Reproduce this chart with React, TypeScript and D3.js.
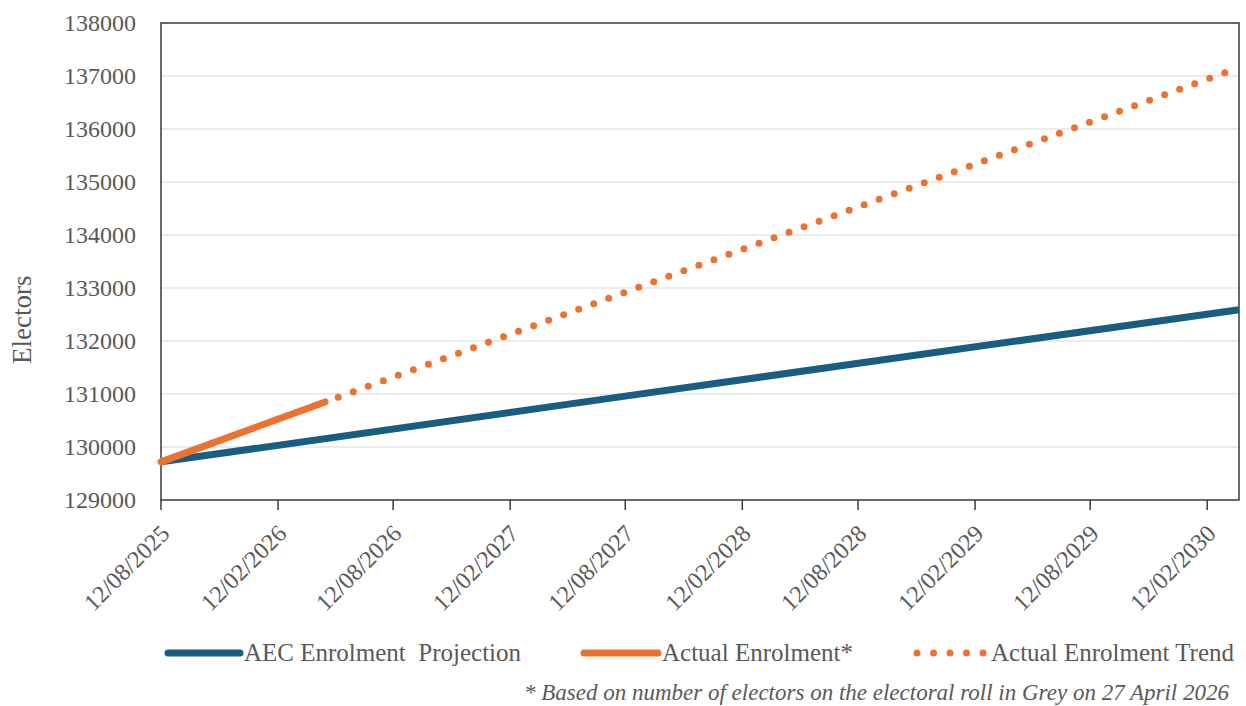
import { useEffect, useRef } from "react";
import * as d3 from "d3";

// AEC projection (linear)
const projectionDates = ["2025-08-12", "2027-08-12", "2030-04-03"];
const projectionValues = [129720, 130960, 132590];

// Actual enrolment to 27 April 2026
const actualDates = ["2025-08-12", "2026-04-27"];
const actualValues = [129720, 130850];

// Trend of actual enrolment
const trendDates = ["2026-04-27", "2027-08-12", "2030-03-20"];
const trendValues = [130850, 132920, 137100];

const xTickDates = [
  "2025-08-12", "2026-02-12", "2026-08-12", "2027-02-12", "2027-08-12",
  "2028-02-12", "2028-08-12", "2029-02-12", "2029-08-12", "2030-02-12",
];
const yTicks = [129000, 130000, 131000, 132000, 133000, 134000, 135000, 136000, 137000, 138000];

const xStart = "2025-08-12";
const xEnd = "2030-04-03";

const BLUE = "#195e80";
const ORANGE = "#ec7232";
const TEXT = "#595959";
const FONT = "'Liberation Serif', 'Times New Roman', serif";

export default function App() {
  const svgRef = useRef<SVGSVGElement>(null);

  useEffect(() => {
    const W = 1246;
    const H = 706;
    const margin = { top: 23, right: 7, bottom: 206, left: 161 };
    const width = W - margin.left - margin.right;
    const height = H - margin.top - margin.bottom;

    const root = d3.select(svgRef.current);
    root.selectAll("*").remove();
    root.attr("width", W).attr("height", H);

    const parse = d3.timeParse("%Y-%m-%d");
    const fmt = d3.timeFormat("%d/%m/%Y");

    const svg = root.append("g").attr("transform", `translate(${margin.left},${margin.top})`);

    const x = d3
      .scaleTime()
      .domain([parse(xStart)!, parse(xEnd)!])
      .range([0, width]);
    const y = d3.scaleLinear().domain([129000, 138000]).range([height, 0]);

    // gridlines
    svg
      .append("g")
      .selectAll("line")
      .data(yTicks.slice(1, -1))
      .enter()
      .append("line")
      .attr("x1", 0)
      .attr("x2", width)
      .attr("y1", (d) => y(d))
      .attr("y2", (d) => y(d))
      .attr("stroke", "#d9d9d9")
      .attr("stroke-width", 1);

    // frame
    svg
      .append("rect")
      .attr("x", 0)
      .attr("y", 0)
      .attr("width", width)
      .attr("height", height)
      .attr("fill", "none")
      .attr("stroke", "#3a3a3a")
      .attr("stroke-width", 1.5);

    // y labels
    svg
      .append("g")
      .selectAll("text")
      .data(yTicks)
      .enter()
      .append("text")
      .attr("x", -25)
      .attr("y", (d) => y(d))
      .attr("dy", "0.33em")
      .attr("text-anchor", "end")
      .attr("fill", TEXT)
      .attr("font-family", FONT)
      .attr("font-size", 24)
      .text((d) => d);

    // x ticks and labels
    const xt = svg
      .append("g")
      .selectAll("g")
      .data(xTickDates.map((d) => parse(d)!))
      .enter()
      .append("g")
      .attr("transform", (d) => `translate(${x(d)},${height})`);
    xt.append("line").attr("y1", 0).attr("y2", 10).attr("stroke", "#3a3a3a").attr("stroke-width", 1.5);
    xt.append("text")
      .attr("transform", "translate(4,29) rotate(-45)")
      .attr("text-anchor", "end")
      .attr("dy", "0.35em")
      .attr("fill", TEXT)
      .attr("font-family", FONT)
      .attr("font-size", 24)
      .text((d) => fmt(d));

    // y title
    svg
      .append("text")
      .attr("transform", `translate(${22 - margin.left},${y(132400)}) rotate(-90)`)
      .attr("text-anchor", "middle")
      .attr("dy", "0.35em")
      .attr("fill", TEXT)
      .attr("font-family", FONT)
      .attr("font-size", 27)
      .text("Electors");

    const line = d3
      .line<[Date, number]>()
      .x((d) => x(d[0]))
      .y((d) => y(d[1]));

    const zip = (dates: string[], vals: number[]) =>
      dates.map((d, i) => [parse(d)!, vals[i]] as [Date, number]);

    svg
      .append("path")
      .datum(zip(projectionDates, projectionValues))
      .attr("fill", "none")
      .attr("stroke", BLUE)
      .attr("stroke-width", 7)
      .attr("d", line);

    svg
      .append("path")
      .datum(zip(trendDates, trendValues))
      .attr("fill", "none")
      .attr("stroke", ORANGE)
      .attr("stroke-width", 7)
      .attr("stroke-linecap", "round")
      .attr("stroke-dasharray", "0 16")
      .attr("stroke-dashoffset", -14)
      .attr("d", line);

    svg
      .append("path")
      .datum(zip(actualDates, actualValues))
      .attr("fill", "none")
      .attr("stroke", ORANGE)
      .attr("stroke-width", 7)
      .attr("stroke-linecap", "round")
      .attr("d", line);

    // legend
    const legend = root.append("g").attr("transform", "translate(0,653)");
    const items = [
      { label: "AEC Enrolment\u00a0\u00a0Projection", x1: 168, x2: 240, tx: 244, dotted: false, color: BLUE },
      { label: "Actual Enrolment*", x1: 584, x2: 658, tx: 662, dotted: false, color: ORANGE },
      { label: "Actual Enrolment Trend", x1: 917, x2: 985, tx: 991, dotted: true, color: ORANGE },
    ];
    items.forEach((it) => {
      legend
        .append("line")
        .attr("x1", it.x1)
        .attr("x2", it.x2)
        .attr("stroke", it.color)
        .attr("stroke-width", 7)
        .attr("stroke-linecap", "round")
        .attr("stroke-dasharray", it.dotted ? "0 16.5" : null);
      legend
        .append("text")
        .attr("x", it.tx)
        .attr("dy", "0.33em")
        .attr("fill", TEXT)
        .attr("font-family", FONT)
        .attr("font-size", 25)
        .text(it.label);
    });

    root
      .append("text")
      .attr("x", 1229)
      .attr("y", 700)
      .attr("text-anchor", "end")
      .attr("fill", TEXT)
      .attr("font-family", FONT)
      .attr("font-style", "italic")
      .attr("font-size", 23)
      .text("* Based on number of electors on the electoral roll in Grey on 27 April 2026");
  }, []);

  return (
    <svg
      ref={svgRef}
      style={{ position: "absolute", left: 0, top: 0, background: "#fff" }}
    ></svg>
  );
}
